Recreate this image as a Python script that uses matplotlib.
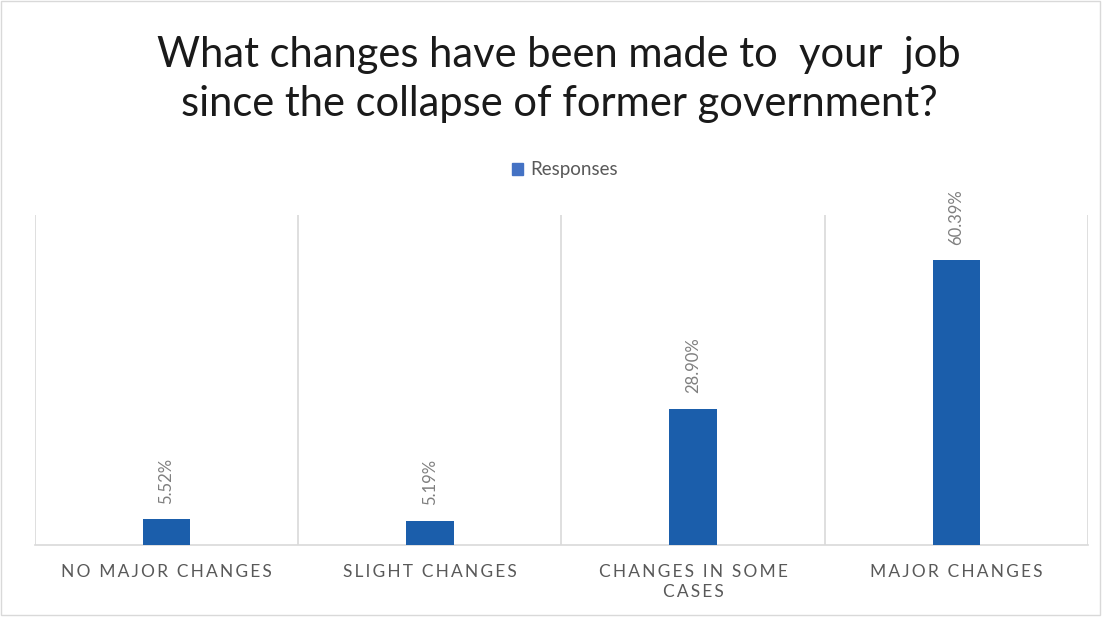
import matplotlib.pyplot as plt
from matplotlib.patches import Patch

categories = ['NO MAJOR CHANGES', 'SLIGHT CHANGES', 'CHANGES IN SOME\nCASES', 'MAJOR CHANGES']
responses = [5.52, 5.19, 28.90, 60.39]
title = 'What changes have been made to  your  job\nsince the collapse of former government?'

plt.rcParams['font.family'] = ['Lato', 'DejaVu Sans']


def spaced(text):
    # widen letter spacing with thin spaces
    return '\n'.join('\u2009'.join(line) for line in text.split('\n'))


def main():
    fig = plt.figure(figsize=(11.03, 6.17), dpi=100)
    ax = fig.add_axes([0.0317, 0.1167, 0.9547, 0.5348])

    x = range(len(categories))
    bars = ax.bar(x, responses, width=0.18, color='#1b5eab', zorder=3)

    # value labels above each bar
    for rect, val in zip(bars, responses):
        ax.annotate('%.2f%%' % val, (rect.get_x() + rect.get_width() / 2, rect.get_height()),
                    xytext=(0, 11), textcoords='offset points', rotation=90,
                    ha='center', va='bottom', fontsize=12, color='#7f7f7f')

    # category separators
    for b in [-0.5, 0.5, 1.5, 2.5, 3.5]:
        ax.axvline(b, color='#d9d9d9', lw=1.2, zorder=1)

    ax.set_xlim(-0.5, 3.5)
    ax.set_ylim(0, 70)
    for s in ['top', 'right', 'left']:
        ax.spines[s].set_visible(False)
    ax.spines['bottom'].set_color('#d9d9d9')
    ax.spines['bottom'].set_linewidth(1.2)
    ax.set_yticks([])
    ax.set_xticks(list(x))
    ax.set_xticklabels([spaced(c) for c in categories], fontsize=12.5, color='#595959',
                       linespacing=1.3)
    ax.tick_params(axis='x', length=0, pad=14)

    fig.text(0.507, 0.871, title, ha='center', va='center', fontsize=30,
             color='#1a1a1a', linespacing=1.33)
    fig.legend(handles=[Patch(color='#4472c4')], labels=['Responses'],
               loc='center', bbox_to_anchor=(0.512, 0.725), frameon=False,
               fontsize=13.5, labelcolor='#595959', handlelength=0.6, handleheight=0.6,
               handletextpad=0.4)

    # thin outer border
    fig.patches.append(plt.Rectangle((0.001, 0.003), 0.996, 0.996, transform=fig.transFigure,
                                     fill=False, edgecolor='#d9d9d9', lw=1))

    fig.savefig('out.png', dpi=100)


if __name__ == "__main__":
    main()
